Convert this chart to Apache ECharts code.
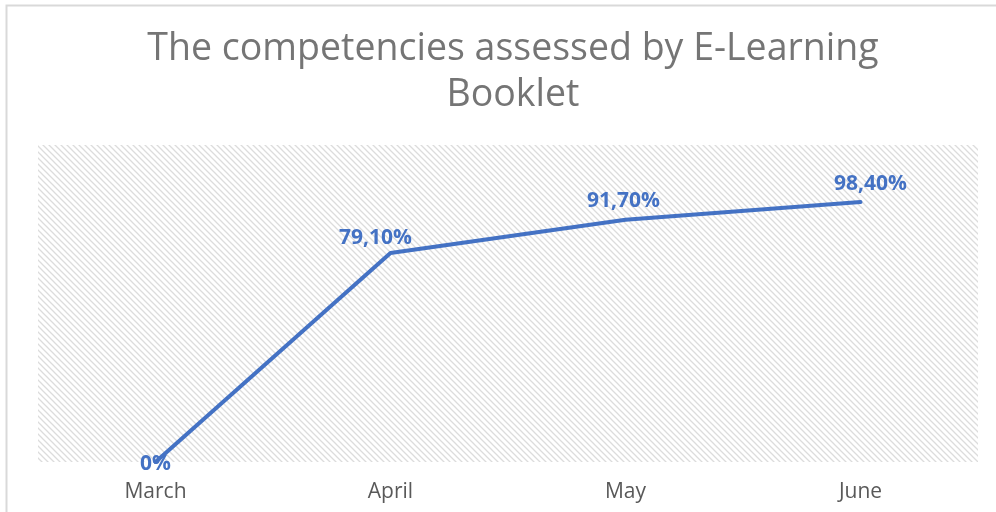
<!DOCTYPE html>
<html>
<head>
<meta charset="utf-8">
<script src="https://cdn.jsdelivr.net/npm/echarts@6/dist/echarts.min.js"></script>
<style>html,body{margin:0;padding:0;background:#fff}#c{width:996px;height:512px}</style>
</head>
<body>
<div id="c"></div>
<script>
const titleText = 'The competencies assessed by E-Learning\nBooklet';
const categories = ['March', 'April', 'May', 'June'];
const values = [0, 79.1, 91.7, 98.4];
const valueLabels = ['0%', '79,10%', '91,70%', '98,40%'];

function makeHatch() {
  const s = 6;
  const c = document.createElement('canvas');
  c.width = s; c.height = s;
  const g = c.getContext('2d');
  g.fillStyle = '#ffffff';
  g.fillRect(0, 0, s, s);
  g.strokeStyle = '#dcdcdc';
  g.lineWidth = 1.3;
  g.beginPath();
  g.moveTo(-1, -1); g.lineTo(s + 1, s + 1);
  g.moveTo(-1, s - 1); g.lineTo(1, s + 1);
  g.moveTo(s - 1, -1); g.lineTo(s + 1, 1);
  g.stroke();
  return c;
}

const labelOffsets = [[0, 2], [-15, 3], [-2, 0], [10, 0]];

const chart = echarts.init(document.getElementById('c'), null, {renderer: 'canvas'});
chart.setOption({
  backgroundColor: '#ffffff',
  animation: false,
  graphic: [{
    type: 'rect',
    shape: {x: 6.5, y: 5.5, width: 1000, height: 520},
    style: {fill: 'none', stroke: '#d9d9d9', lineWidth: 2},
    silent: true, z: -10
  }],
  title: {
    text: titleText,
    left: 508,
    textAlign: 'center',
    top: 21,
    textStyle: {
      fontFamily: 'Open Sans',
      fontSize: 37.5,
      fontWeight: 'normal',
      color: '#757575',
      lineHeight: 46
    }
  },
  grid: {
    left: 38, right: 18, top: 145, bottom: 50,
    show: true,
    borderWidth: 0,
    backgroundColor: {image: makeHatch(), repeat: 'repeat'}
  },
  xAxis: {
    type: 'category',
    data: categories,
    boundaryGap: true,
    axisLine: {show: false},
    axisTick: {show: false},
    axisLabel: {
      color: '#595959',
      fontFamily: 'Open Sans',
      fontSize: 21,
      margin: 20
    }
  },
  yAxis: {
    type: 'value',
    min: 0, max: 120,
    show: false,
    splitLine: {show: false}
  },
  series: [{
    type: 'line',
    data: values.map((v, i) => ({
      value: v,
      label: i === 0 ? {position: 'inside', offset: labelOffsets[i]} : {offset: labelOffsets[i]}
    })),
    showSymbol: true,
    symbol: 'circle',
    symbolSize: 2,
    lineStyle: {color: '#4472C4', width: 4, cap: 'round'},
    itemStyle: {color: '#4472C4'},
    label: {
      show: true,
      position: 'top',
      distance: 7,
      color: '#4472C4',
      fontFamily: 'Open Sans',
      fontWeight: 'bold',
      fontSize: 21,
      formatter: p => valueLabels[p.dataIndex]
    }
  }]
});
</script>
</body>
</html>
